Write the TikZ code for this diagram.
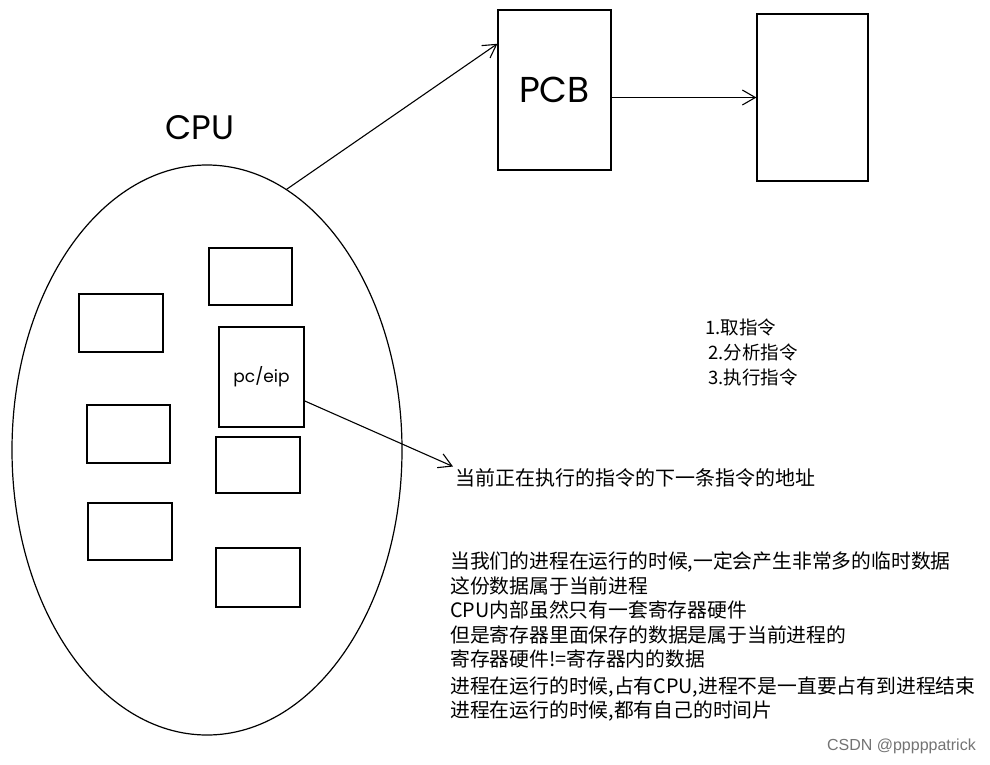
\documentclass[tikz,border=0pt]{standalone}
\usepackage{fontspec}
\setmainfont{Noto Sans CJK SC}
\newfontfamily\handfont{Poppins}
\newfontfamily\markfont{Liberation Sans}
\usetikzlibrary{shapes.geometric,arrows.meta,calc}

\begin{document}
\begin{tikzpicture}[x=1pt,y=-1pt,
	reg/.style={draw, line width=1.2pt, minimum width=84pt, minimum height=57pt, inner sep=0pt},
	page/.style={draw, line width=1.2pt, inner sep=0pt},
	sketch/.style={line width=1.1pt, -{Straight Barb[length=13pt,width=15pt]}},
	note/.style={anchor=west, inner sep=2pt, font=\fontsize{19.8}{22}\selectfont}]
\useasboundingbox (0,0) rectangle (990,764);
\node [ellipse, draw, line width=1.2pt, minimum width=390pt, minimum height=570pt, inner sep=0pt] (cpu) at (207,450) {};
\node [font=\handfont\fontsize{34}{36}\selectfont] (cpulabel) at (200,128) {CPU};
\node [page, minimum width=113pt, minimum height=160pt, font=\handfont\fontsize{36}{38}\selectfont] (pcb) at (554.5,90) {PCB};
\node [page, minimum width=111pt, minimum height=167pt] (next) at (812.5,97.5) {};
% registers inside the cpu
\node [reg, minimum width=83pt] (r1) at (250.5,276.5) {};
\node [reg, minimum height=58pt] (r2) at (121,323) {};
\node [reg, minimum width=85pt, minimum height=100pt, font=\handfont\fontsize{17}{19}\selectfont] (pc) at (261.5,377) {pc/eip};
\node [reg, minimum width=83pt, minimum height=58pt] (r3) at (128.5,434) {};
\node [reg, minimum height=56pt] (r4) at (258,465) {};
\node [reg] (r5) at (130,531.5) {};
\node [reg, minimum height=59pt] (r6) at (258,577.5) {};
% texts
\node [note, font=\fontsize{20}{22}\selectfont] (addr) at (453,478) {当前正在执行的指令的下一条指令的地址};
\node [note, font=\fontsize{18.5}{20}\selectfont] (s1) at (703,327) {1.取指令};
\node [note, font=\fontsize{18.5}{20}\selectfont] (s2) at (706,352) {2.分析指令};
\node [note, font=\fontsize{18.5}{20}\selectfont] (s3) at (706,377) {3.执行指令};
\node [note] (t1) at (448,562) {当我们的进程在运行的时候,一定会产生非常多的临时数据};
\node [note] (t2) at (448,586) {这份数据属于当前进程};
\node [note] (t3) at (448,610) {CPU内部虽然只有一套寄存器硬件};
\node [note] (t4) at (448,635) {但是寄存器里面保存的数据是属于当前进程的};
\node [note] (t5) at (448,659) {寄存器硬件!=寄存器内的数据};
\node [note] (t6) at (448,687) {进程在运行的时候,占有CPU,进程不是一直要占有到进程结束};
\node [note] (t7) at (448,711) {进程在运行的时候,都有自己的时间片};
\node [anchor=east, inner sep=0pt, text=black!55, font=\markfont\fontsize{16}{18}\selectfont] (mark) at (976,746) {CSDN @pppppatrick};
% arrows
\draw [sketch] (cpu.73) -- (pcb.141);
\draw [sketch] (pcb.east |- next.west) -- (next.west);
\draw [sketch] (pc.-29) -- (addr.north west);
\end{tikzpicture}
\end{document}
